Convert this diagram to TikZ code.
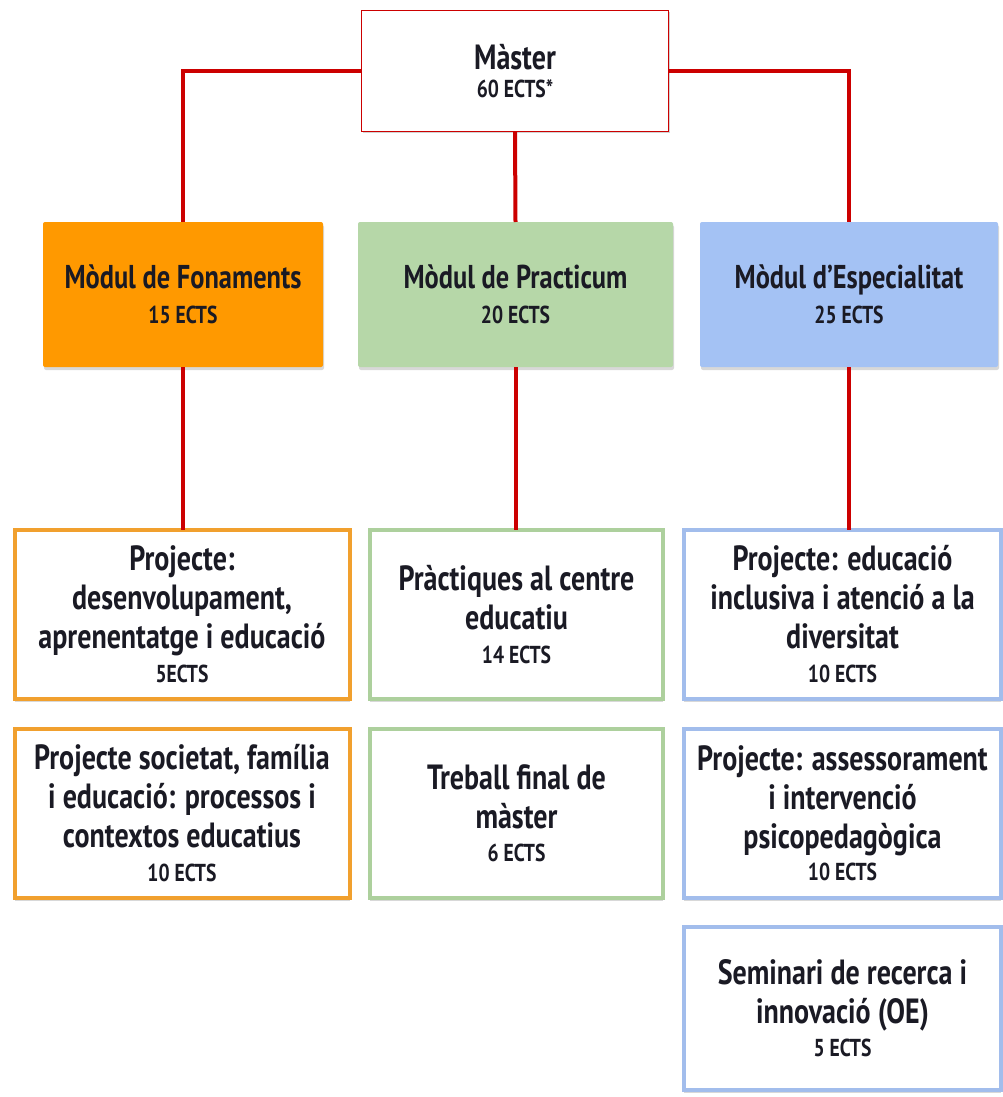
\documentclass[tikz,border=0pt]{standalone}
\usepackage{fontspec}
\setmainfont{PT Sans}[FakeStretch=0.8]
\usetikzlibrary{shadows}
\definecolor{redl}{HTML}{CC0000}
\definecolor{orf}{HTML}{FF9900}
\definecolor{orb}{HTML}{F1A02E}
\definecolor{grf}{HTML}{B6D7A8}
\definecolor{grb}{HTML}{ADD09D}
\definecolor{blf}{HTML}{A4C2F4}
\definecolor{blb}{HTML}{A2BDEC}
\definecolor{txt}{HTML}{1A1A24}
\newcommand\ects[1]{{\fontsize{24.5}{26}\selectfont #1}}
\begin{document}
\begin{tikzpicture}[x=1pt,y=-1pt,
  every node/.style={inner sep=0pt, outer sep=0pt, align=center, text=txt,
    font=\bfseries\fontsize{35}{39}\selectfont},
  modfont/.style={font=\bfseries\fontsize{33}{39}\selectfont},
  redline/.style={draw=redl, line width=4pt},
  master/.style={draw=redl, line width=1.6pt, fill=white, drop shadow={shadow xshift=1pt, shadow yshift=-2pt, opacity=0.35}},
  modbox/.style={draw=none, rounded corners=2pt, modfont, drop shadow={shadow xshift=1pt, shadow yshift=-3pt, opacity=0.3}},
  itembox/.style={fill=white, line width=4pt, drop shadow={shadow xshift=0pt, shadow yshift=-2.5pt, opacity=0.3}},
]
\useasboundingbox (0,0) rectangle (1003,1097);
\fill[white] (0,0) rectangle (1003,1097);

% Master
\node[master, minimum width=307, minimum height=121] (ms) at (515,71)
  {Màster\\[-11pt]\ects{60 ECTS*}};

% Modules
\node[modbox, fill=orf, minimum width=280, minimum height=145] (mf) at (183,294.5)
  {Mòdul de Fonaments\\[-4pt]\ects{15 ECTS}};
\node[modbox, fill=grf, minimum width=315, minimum height=145] (mp) at (515.5,294.5)
  {Mòdul de Practicum\\[-4pt]\ects{20 ECTS}};
\node[modbox, fill=blf, minimum width=298, minimum height=145] (me) at (849,294.5)
  {Mòdul d’Especialitat\\[-4pt]\ects{25 ECTS}};

% Row 1
\node[itembox, draw=orb, minimum width=335, minimum height=169] (f1) at (182,614.5)
  {Projecte:\\desenvolupament,\\aprenentatge i educació\\[-5pt]\ects{5ECTS}};
\node[itembox, draw=grb, minimum width=293, minimum height=169] (p1) at (516.5,614.5)
  {Pràctiques al centre\\educatiu\\[-5pt]\ects{14 ECTS}};
\node[itembox, draw=blb, minimum width=317, minimum height=169] (e1) at (842.5,614.5)
  {Projecte: educació\\inclusiva i atenció a la\\diversitat\\[-5pt]\ects{10 ECTS}};

% Row 2
\node[itembox, draw=orb, minimum width=335, minimum height=169] (f2) at (182,813.5)
  {Projecte societat, família\\i educació: processos i\\contextos educatius\\[-5pt]\ects{10 ECTS}};
\node[itembox, draw=grb, minimum width=293, minimum height=169] (p2) at (516.5,813.5)
  {Treball final de\\màster\\[-6pt]\ects{6 ECTS}};
\node[itembox, draw=blb, minimum width=317, minimum height=169] (e2) at (842.5,813.5)
  {Projecte: assessorament\\i intervenció\\psicopedagògica\\[-7pt]\ects{10 ECTS}};

% Row 3
\node[itembox, draw=blb, minimum width=317, minimum height=163] (e3) at (842.5,1008.5)
  {Seminari de recerca i\\innovació (OE)\\[-6pt]\ects{5 ECTS}};

% Connectors
\draw[redline] (ms.west) -| (mf.north);
\draw[redline] (ms.east) -| (me.north);
\draw[redline] (ms.south) -- (mp.north);
\draw[redline] (mf.south) -- (mf.south |- f1.north);
\draw[redline] (mp.south) -- (mp.south |- p1.north);
\draw[redline] (me.south) -- (me.south |- e1.north);
\end{tikzpicture}
\end{document}
